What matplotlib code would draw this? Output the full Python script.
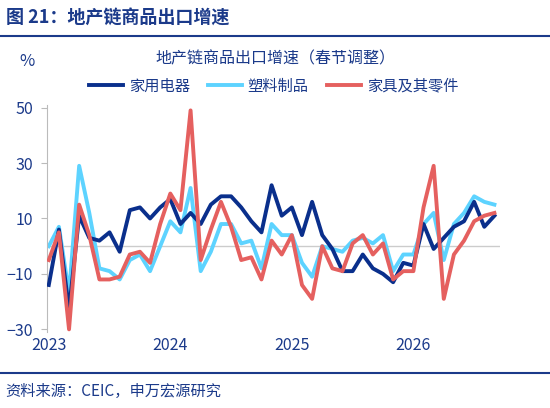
import matplotlib
matplotlib.use("Agg")
import matplotlib.pyplot as plt
from matplotlib.lines import Line2D

plt.rcParams['font.family'] = ['Noto Sans CJK SC', 'DejaVu Sans']

years = ["2023", "2024", "2025", "2026"]
appliances = [-14, 6, -23, 11, 3, 2, 5, -2, 13, 14, 10, 14, 17, 8, 12, 8, 15, 18, 18, 14, 9, 5, 22, 11, 14,
              4, 16, 4, -1, -9, -9, -3, -8, -10, -13, -6, -7, 8, -1, 3, 7, 9, 16, 7, 11]
plastics = [0, 7, -17, 29, 12, -8, -9, -12, -5, -3, -9, 0, 9, 5, 21, -9, -2, 8, 8, 1, 2, -8, 8, 4, 4,
            -6, -11, 0, -1, -2, 2, 3, 1, 4, -9, -3, -3, 8, 12, -5, 8, 12, 18, 16, 15]
furniture = [-5, 5, -30, 15, 4, -12, -12, -11, -3, -2, -6, 8, 19, 13, 49, -5, 6, 16, 7, -5, -4, -12, 2, -3, 4,
             -14, -19, 0, -8, -9, 1, 4, -3, 1, -12, -9, -9, 14, 29, -19, -3, 2, 9, 11, 12]

navy = "#0A2F8C"
light = "#5DD3FF"
red = "#E5605F"
txt = "#1B3A8A"

fig = plt.figure(figsize=(5.5, 4.08), dpi=100)
fig.text(0.01, 0.955, "图 21：地产链商品出口增速", fontsize=13, fontweight='bold', color=txt, va='center')
fig.add_artist(Line2D([0, 1], [0.912, 0.912], color=txt, lw=1.5))
fig.add_artist(Line2D([0, 1], [0.085, 0.085], color=txt, lw=1.5))
fig.text(0.01, 0.04, "资料来源：CEIC，申万宏源研究", fontsize=11, color=txt, va='center')
fig.text(0.035, 0.85, "%", fontsize=12, color=txt, va='center')
fig.text(0.5, 0.855, "地产链商品出口增速（春节调整）", fontsize=11.5, color=txt, ha='center', va='center')

ax = fig.add_axes([0.085, 0.186, 0.825, 0.557])
x = list(range(len(appliances)))
ax.plot(x, appliances, color=navy, lw=2.8, label="家用电器", zorder=3)
ax.plot(x, plastics, color=light, lw=2.8, label="塑料制品", zorder=2)
ax.plot(x, furniture, color=red, lw=2.8, label="家具及其零件", zorder=4)
ax.axhline(0, color="#cccccc", lw=1, zorder=1)
ax.set_ylim(-31, 51)
ax.set_yticks([-30, -10, 10, 30, 50])
ax.set_xlim(-0.2, 44.6)
ax.set_xticks([0, 12, 24, 36])
ax.set_xticklabels(years)
ax.tick_params(axis='both', colors=txt, labelsize=11.5, length=0)
ax.tick_params(axis='y', length=4, color="#bbbbbb", pad=6)
for s in ['top', 'right', 'bottom']:
    ax.spines[s].set_visible(False)
ax.spines['left'].set_color("#bbbbbb")
leg = ax.legend(loc='upper center', bbox_to_anchor=(0.5, 1.18), ncol=3, frameon=False,
                fontsize=11, handlelength=2.2, columnspacing=1.2, handletextpad=0.4)
for t in leg.get_texts():
    t.set_color(txt)
fig.savefig("out.png", dpi=100)
